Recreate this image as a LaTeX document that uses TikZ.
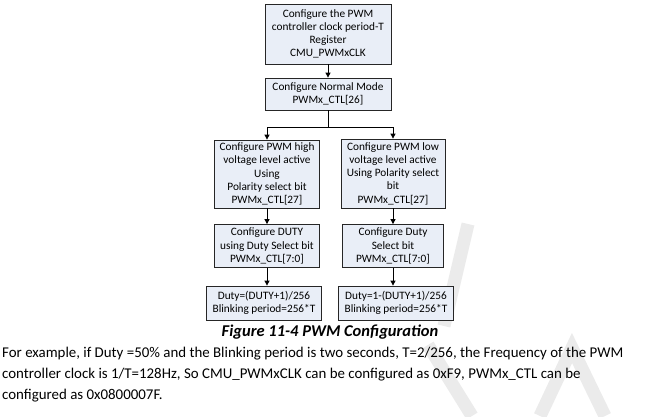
\documentclass[tikz,border=0pt]{standalone}
\usepackage{fontspec}
\setmainfont{Carlito}
\usetikzlibrary{arrows.meta}
\definecolor{boxfill}{HTML}{E9EEF7}
\definecolor{wmark}{HTML}{EBEBEB}
\begin{document}
\begin{tikzpicture}[x=1pt,y=-1pt,
  box/.style={draw=black!85, line width=0.8pt, fill=boxfill, align=center,
    font=\fontsize{11.3}{13.2}\selectfont, inner sep=0pt},
  arr/.style={-{Triangle[length=5pt,width=5pt]}, line width=0.8pt},
  line/.style={line width=0.8pt},
  body/.style={anchor=base west, inner sep=0pt, font=\fontsize{14.9}{17}\selectfont},
  wm/.style={draw=wmark, line width=13pt}]
\useasboundingbox (0,0) rectangle (660,416);
% watermark fragments
\draw[wm] (468,224) -- (444,326);
\draw[wm] (428,345) -- (472,416);
\draw[wm] (540,416) -- (572,348) -- (605,416);
% boxes
\node[box, minimum width=126, minimum height=60] (b1) at (328,34)
  {Configure the PWM\\controller clock period-T\\Register\\CMU\_PWMxCLK};
\node[box, minimum width=126, minimum height=32] (b2) at (328,94)
  {Configure Normal Mode\\PWMx\_CTL[26]};
\node[box, minimum width=105, minimum height=68] (l3) at (267,174)
  {Configure PWM high\\voltage level active\\Using\\Polarity select bit\\PWMx\_CTL[27]};
\node[box, minimum width=104, minimum height=69] (r3) at (393,173.5)
  {Configure PWM low\\voltage level active\\Using Polarity select\\bit\\PWMx\_CTL[27]};
\node[box, minimum width=105, minimum height=43] (l4) at (267,246)
  {Configure DUTY\\using Duty Select bit\\PWMx\_CTL[7:0]};
\node[box, minimum width=101, minimum height=43] (r4) at (393,246)
  {Configure Duty\\Select bit\\PWMx\_CTL[7:0]};
\node[box, minimum width=115, minimum height=34] (l5) at (264,303)
  {Duty=(DUTY+1)/256\\Blinking period=256*T};
\node[box, minimum width=115, minimum height=34] (r5) at (396,303)
  {Duty=1-(DUTY+1)/256\\Blinking period=256*T};
% connectors
\coordinate (j) at (328,127);
\draw[arr] (b1) -- (b2);
\draw[line] (b2) -- (j);
\draw[arr] (j) -| (l3);
\draw[arr] (j) -| (r3);
\draw[arr] (l3.south -| l4) -- (l4);
\draw[arr] (r3.south -| r4) -- (r4);
\draw[arr] (l4.south -| l3) -- (l5.north -| l3);
\draw[arr] (r4.south -| r3) -- (r5.north -| r3);
% caption
\node[inner sep=0pt, font=\fontsize{16.5}{18}\selectfont\bfseries\itshape] (cap) at (330,332)
  {Figure 11-4 PWM Configuration};
% body text
\node[body] (t1) at (2,357) {For example, if Duty =50\% and the Blinking period is two seconds, T=2/256, the Frequency of the PWM};
\node[body] (t2) at (2,378) {controller clock is 1/T=128Hz, So CMU\_PWMxCLK can be configured as 0xF9, PWMx\_CTL can be};
\node[body] (t3) at (2,399) {configured as 0x0800007F.};
\end{tikzpicture}
\end{document}
